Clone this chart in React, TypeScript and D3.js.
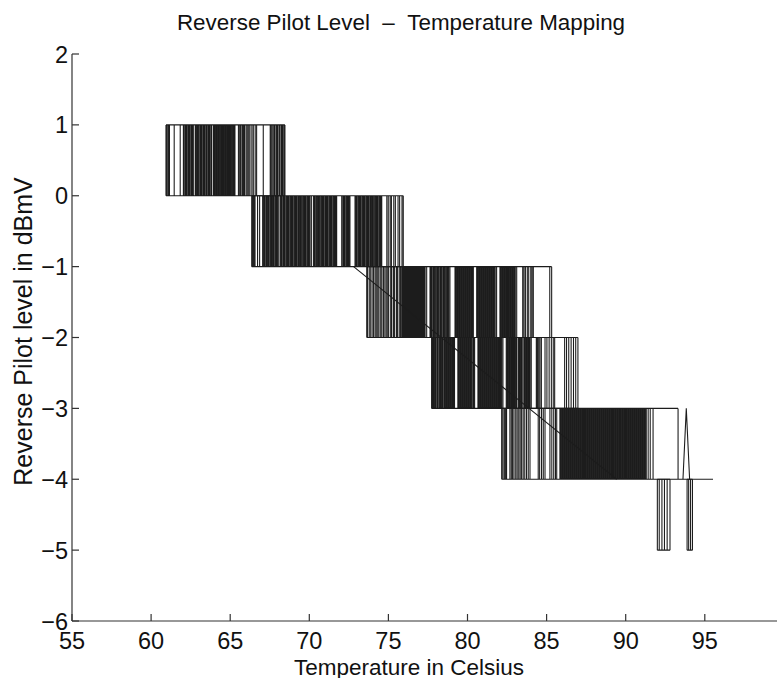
import React from "react";
import * as d3 from "d3";

// ---- axis ticks ----
const xTicks = [55, 60, 65, 70, 75, 80, 85, 90, 95];
const yTicks = [-6, -5, -4, -3, -2, -1, 0, 1, 2];

// ---- temperatures where the level toggles, per level band ----
const bandA = [60.94, 61.01, 61.09, 61.16, 61.46, 61.84, 62.04, 62.09, 62.17, 62.23, 62.28, 62.36, 62.42, 62.47, 62.55, 62.61, 62.67, 62.79, 62.85, 62.92, 62.97, 63.04, 63.12, 63.17, 63.23, 63.31, 63.36, 63.42, 63.5, 63.55, 63.63, 63.69, 63.77, 63.83, 63.94, 64.0, 64.06, 64.13, 64.18, 64.25, 64.3, 64.37, 64.44, 64.49, 64.56, 64.62, 64.69, 64.74, 64.81, 64.87, 64.93, 65.0, 65.05, 65.12, 65.19, 65.24, 65.3, 65.52, 65.6, 65.67, 65.76, 65.83, 65.9, 66.0, 66.08, 66.17, 66.25, 66.37, 66.46, 66.58, 66.67, 67.09, 67.53, 67.6, 67.69, 67.77, 67.83, 67.92, 67.99, 68.08, 68.15, 68.24, 68.31, 68.39, 68.46];
const bandB = [66.36, 66.43, 66.5, 66.57, 66.73, 66.86, 67.05, 67.12, 67.17, 67.25, 67.31, 67.38, 67.43, 67.51, 67.58, 67.64, 67.71, 67.76, 67.84, 67.91, 67.97, 68.04, 68.15, 68.22, 68.27, 68.35, 68.41, 68.46, 68.54, 68.61, 68.67, 68.72, 68.8, 68.87, 68.93, 68.98, 69.06, 69.13, 69.19, 69.24, 69.32, 69.39, 69.45, 69.5, 69.58, 69.65, 69.71, 69.76, 69.84, 69.91, 69.97, 70.04, 70.13, 70.26, 70.33, 70.38, 70.46, 70.53, 70.59, 70.64, 70.72, 70.79, 70.85, 70.9, 70.98, 71.05, 71.11, 71.16, 71.24, 71.31, 71.37, 71.42, 71.5, 71.57, 71.63, 71.68, 71.73, 72.05, 72.13, 72.19, 72.24, 72.32, 72.39, 72.45, 72.5, 72.57, 72.89, 72.96, 73.01, 73.09, 73.16, 73.22, 73.27, 73.35, 73.42, 73.48, 73.53, 73.61, 73.68, 73.74, 73.79, 73.87, 73.94, 74.0, 74.05, 74.13, 74.2, 74.26, 74.31, 74.39, 74.46, 74.52, 74.58, 74.9, 74.99, 75.11, 75.19, 75.34, 75.44, 75.61, 75.71, 75.86, 75.94];
const bandC = [73.63, 73.7, 73.82, 73.9, 74.02, 74.09, 74.2, 74.28, 74.36, 74.47, 74.55, 74.66, 74.73, 74.84, 74.92, 75.0, 75.12, 75.2, 75.31, 75.38, 75.5, 75.57, 75.68, 75.76, 75.84, 75.9, 75.96, 76.02, 76.08, 76.13, 76.19, 76.25, 76.3, 76.36, 76.42, 76.47, 76.53, 76.59, 76.64, 76.7, 76.76, 76.81, 76.87, 76.93, 76.98, 77.04, 77.1, 77.15, 77.21, 77.27, 77.32, 77.42, 77.63, 77.7, 77.76, 77.84, 77.9, 77.97, 78.05, 78.11, 78.18, 78.26, 78.32, 78.39, 78.47, 78.53, 78.6, 78.68, 78.74, 78.81, 78.89, 79.21, 79.27, 79.34, 79.4, 79.47, 79.53, 79.6, 79.66, 79.73, 79.79, 79.86, 79.92, 79.99, 80.05, 80.12, 80.18, 80.25, 80.31, 80.37, 80.58, 80.64, 80.71, 80.77, 80.84, 80.9, 80.97, 81.03, 81.1, 81.16, 81.23, 81.29, 81.36, 81.42, 81.49, 81.55, 81.62, 81.68, 81.75, 81.84, 82.05, 82.11, 82.18, 82.24, 82.31, 82.37, 82.44, 82.5, 82.57, 82.63, 82.7, 82.76, 82.83, 82.89, 82.96, 83.02, 83.11, 83.49, 83.57, 83.66, 83.78, 83.87, 84.0, 84.08, 84.16, 85.2, 85.32];
const bandD = [77.73, 77.8, 77.86, 77.93, 77.99, 78.07, 78.12, 78.2, 78.27, 78.33, 78.4, 78.46, 78.54, 78.6, 78.67, 78.73, 78.8, 78.87, 78.93, 79.0, 79.06, 79.12, 79.18, 79.39, 79.45, 79.52, 79.58, 79.65, 79.71, 79.78, 79.84, 79.91, 79.97, 80.04, 80.1, 80.17, 80.23, 80.3, 80.38, 80.45, 80.66, 80.72, 80.79, 80.85, 80.92, 80.98, 81.05, 81.11, 81.18, 81.24, 81.31, 81.37, 81.44, 81.5, 81.57, 81.63, 81.7, 81.76, 81.83, 81.89, 81.96, 82.02, 82.09, 82.16, 82.24, 82.45, 82.52, 82.58, 82.65, 82.71, 82.78, 82.84, 82.91, 82.97, 83.04, 83.1, 83.2, 83.27, 83.33, 83.4, 83.46, 83.56, 83.62, 83.69, 83.75, 83.82, 83.88, 83.95, 84.03, 84.35, 84.42, 84.5, 84.58, 84.67, 84.9, 85.02, 85.16, 85.3, 85.42, 85.51, 86.14, 86.26, 86.4, 86.55, 86.7, 86.84, 86.98];
const bandE = [82.16, 82.24, 82.33, 82.41, 82.47, 82.68, 82.77, 82.85, 82.94, 83.05, 83.14, 83.24, 83.33, 83.42, 83.52, 83.62, 83.73, 83.84, 83.95, 84.47, 84.56, 84.68, 84.79, 84.9, 85.21, 85.33, 85.45, 85.56, 85.64, 85.84, 85.9, 85.97, 86.03, 86.1, 86.16, 86.23, 86.29, 86.36, 86.42, 86.49, 86.55, 86.62, 86.68, 86.75, 86.81, 86.88, 86.94, 87.01, 87.07, 87.14, 87.2, 87.27, 87.33, 87.4, 87.46, 87.53, 87.59, 87.66, 87.72, 87.79, 87.85, 87.92, 87.98, 88.05, 88.11, 88.18, 88.24, 88.31, 88.37, 88.44, 88.5, 88.57, 88.63, 88.7, 88.76, 88.83, 88.89, 88.96, 89.02, 89.09, 89.15, 89.22, 89.28, 89.35, 89.41, 89.48, 89.54, 89.61, 89.67, 89.74, 89.8, 89.87, 89.93, 90.0, 90.06, 90.13, 90.19, 90.26, 90.32, 90.39, 90.45, 90.52, 90.58, 90.65, 90.71, 90.78, 90.84, 90.91, 90.97, 91.04, 91.1, 91.17, 91.23, 91.3, 91.42, 91.55, 91.73, 93.31];
const bandF1 = [92.0, 92.12, 92.29, 92.45, 92.62, 92.8];
const bandF2 = [93.88, 93.98, 94.1, 94.22];

const bandHi = [1, 0, -1, -2, -3, -4, -4];
const bandLo = [0, -1, -2, -3, -4, -5, -5];
const bandXs = [bandA, bandB, bandC, bandD, bandE, bandF1, bandF2];

// extra trace pieces [temperature, level]
const diagonal: [number, number][] = [[72.8, -1], [89.43, -4]];
const tail: [number, number][] = [[93.31, -4], [95.52, -4]];
const peak: [number, number][] = [[93.62, -4], [93.83, -3], [94.04, -4]];

export default function App() {
  const W = 777;
  const H = 678;
  const x = d3.scaleLinear().domain([55, 100]).range([72, 783.9]);
  const y = d3.scaleLinear().domain([-6, 2]).range([621, 54]);
  const line = d3.line<[number, number]>().x((d) => x(d[0])).y((d) => y(d[1]));

  const font = "'Liberation Sans', Arial, Helvetica, sans-serif";
  const ink = "#1c1c1c";

  const bandPaths = bandXs.map((xs, i) => {
    const hi = bandHi[i];
    const lo = bandLo[i];
    const lo0 = d3.min(xs)!;
    const hi0 = d3.max(xs)!;
    let d = line([[lo0, hi], [hi0, hi]])! + line([[lo0, lo], [hi0, lo]])!;
    xs.forEach((v) => {
      d += line([[v, hi], [v, lo]])!;
    });
    return d;
  });

  return (
    <svg width={W} height={H} style={{ position: "absolute", left: 0, top: 0, background: "#fff" }}>
      <rect x={0} y={0} width={W} height={H} fill="#fff" />
      {/* trace */}
      <g fill="none" stroke={ink} strokeWidth={1.08}>
        {bandPaths.map((d, i) => (
          <path key={i} d={d} />
        ))}
        <path d={line(diagonal)!} />
        <path d={line(tail)!} />
        <path d={line(peak)!} />
      </g>
      {/* axes */}
      <g stroke="#333" strokeWidth={1.2} fill="none">
        <line x1={x(55)} x2={x(100)} y1={y(-6)} y2={y(-6)} />
        <line x1={x(55)} x2={x(55)} y1={y(-6)} y2={y(2)} />
        {xTicks.map((t) => (
          <line key={"xt" + t} x1={x(t)} x2={x(t)} y1={y(-6)} y2={y(-6) - 7} />
        ))}
        {yTicks.map((t) => (
          <line key={"yt" + t} x1={x(55)} x2={x(55) + 7} y1={y(t)} y2={y(t)} />
        ))}
      </g>
      <g fontFamily={font} fontSize={23.5} fill="#111">
        {xTicks.map((t) => (
          <text key={"xl" + t} x={x(t)} y={649} textAnchor="middle">
            {t}
          </text>
        ))}
        {yTicks.map((t) => (
          <text key={"yl" + t} x={68} y={y(t) + 8.5} textAnchor="end">
            {t < 0 ? "\u2212" + Math.abs(t) : String(t)}
          </text>
        ))}
      </g>
      <text x={401} y={30} textAnchor="middle" fontFamily={font} fontSize={22.4} fill="#111">
        Reverse Pilot Level {"\u00A0"}– {"\u00A0"}Temperature Mapping
      </text>
      <text x={409} y={674.5} textAnchor="middle" fontFamily={font} fontSize={22.5} fill="#111">
        Temperature in Celsius
      </text>
      <text
        transform={`translate(32, 331.5) rotate(-90)`}
        textAnchor="middle"
        fontFamily={font}
        fontSize={25}
        fill="#111"
      >
        Reverse Pilot level in dBmV
      </text>
    </svg>
  );
}
